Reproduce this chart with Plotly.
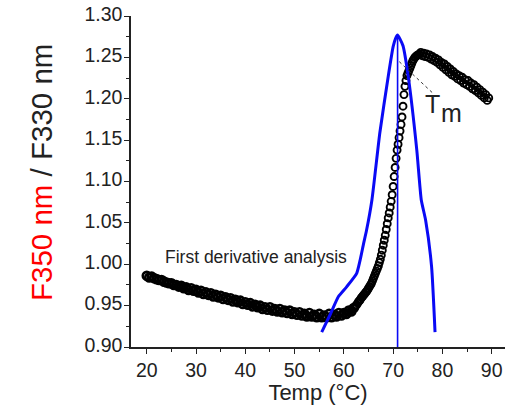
import plotly.graph_objects as go

# ---------------- data ----------------
temp_a = [20.0, 20.5, 21.0, 21.5, 22.0, 22.5, 23.0, 23.5, 24.0, 24.5, 25.0, 25.5, 26.0, 26.5, 27.0, 27.5,
          28.0, 28.5, 29.0, 29.5, 30.0, 30.5, 31.0, 31.5, 32.0, 32.5, 33.0, 33.5, 34.0, 34.5, 35.0, 35.5,
          36.0, 36.5, 37.0, 37.5, 38.0, 38.5, 39.0, 39.5, 40.0, 40.5, 41.0, 41.5, 42.0, 42.5, 43.0, 43.5,
          44.0, 44.5, 45.0, 45.5, 46.0, 46.5, 47.0, 47.5, 48.0, 48.5, 49.0, 49.5, 50.0, 50.5, 51.0, 51.5,
          52.0, 52.5, 53.0, 53.5, 54.0, 54.5, 55.0, 55.5, 56.0, 56.5, 57.0, 57.5, 58.0, 58.5, 59.0, 59.5,
          60.0, 60.5, 61.0, 61.5, 62.0]
ratio_a = [0.986, 0.984, 0.985, 0.983, 0.982, 0.981, 0.981, 0.979, 0.978, 0.977, 0.977, 0.975, 0.975, 0.973, 0.974, 0.971,
           0.972, 0.969, 0.971, 0.968, 0.969, 0.966, 0.968, 0.964, 0.966, 0.963, 0.965, 0.961, 0.963, 0.960, 0.962, 0.958,
           0.960, 0.957, 0.959, 0.955, 0.957, 0.954, 0.956, 0.952, 0.954, 0.951, 0.953, 0.949, 0.951, 0.948, 0.950, 0.946,
           0.948, 0.945, 0.948, 0.944, 0.946, 0.943, 0.946, 0.942, 0.944, 0.941, 0.944, 0.940, 0.942, 0.939, 0.942, 0.938,
           0.940, 0.937, 0.941, 0.937, 0.939, 0.936, 0.940, 0.936, 0.938, 0.936, 0.940, 0.936, 0.939, 0.937, 0.941, 0.938,
           0.941, 0.940, 0.944, 0.943, 0.947]

temp_b = [62.2, 62.4, 62.6, 62.8, 63.0, 63.2, 63.4, 63.6, 63.8, 64.0, 64.2, 64.4, 64.6, 64.8, 65.0, 65.2,
          65.4, 65.6, 65.8, 66.0, 66.2, 66.4, 66.6, 66.8, 67.0, 67.2, 67.4, 67.6, 67.8, 68.0, 68.2, 68.4,
          68.6, 68.8, 69.0, 69.2, 69.4, 69.6, 69.8, 70.0, 70.2, 70.4, 70.6, 70.8, 71.0, 71.2, 71.4, 71.6,
          71.8, 72.0, 72.2, 72.4, 72.6, 72.8, 73.0, 73.2, 73.4, 73.6, 73.8, 74.0, 74.2, 74.4, 74.6, 74.8, 75.0]
ratio_b = [0.948, 0.950, 0.951, 0.953, 0.955, 0.956, 0.958, 0.960, 0.961, 0.963, 0.964, 0.966, 0.967, 0.969, 0.971, 0.973,
           0.975, 0.977, 0.980, 0.983, 0.986, 0.989, 0.992, 0.995, 0.998, 1.002, 1.006, 1.011, 1.017, 1.023, 1.029, 1.035,
           1.042, 1.049, 1.056, 1.062, 1.069, 1.076, 1.084, 1.094, 1.106, 1.117, 1.128, 1.138, 1.145, 1.153, 1.161, 1.169,
           1.178, 1.191, 1.205, 1.215, 1.222, 1.228, 1.231, 1.234, 1.237, 1.240, 1.243, 1.246, 1.248, 1.250, 1.251, 1.252, 1.253]

temp_c = [75.3, 75.6, 75.9, 76.2, 76.5, 76.8, 77.1, 77.4, 77.7, 78.0, 78.3, 78.6, 78.9, 79.2, 79.5, 79.8,
          80.1, 80.4, 80.7, 81.0, 81.3, 81.6, 81.9, 82.2, 82.5, 82.8, 83.1, 83.4, 83.7, 84.0, 84.3, 84.6,
          84.9, 85.2, 85.5, 85.8, 86.1, 86.4, 86.7, 87.0, 87.3, 87.6, 87.9, 88.2, 88.5, 88.8, 89.1, 89.4]
ratio_c = [1.254, 1.256, 1.252, 1.255, 1.251, 1.254, 1.250, 1.253, 1.248, 1.251, 1.246, 1.249, 1.244, 1.247, 1.241, 1.244,
           1.238, 1.242, 1.235, 1.239, 1.232, 1.236, 1.229, 1.233, 1.227, 1.230, 1.224, 1.228, 1.222, 1.226, 1.219, 1.223,
           1.217, 1.222, 1.215, 1.219, 1.212, 1.217, 1.210, 1.214, 1.207, 1.211, 1.204, 1.208, 1.201, 1.205, 1.198, 1.201]

deriv_t = [55.5, 57.2, 58.9, 60.6, 62.6, 63.3, 64.0, 64.6, 65.7, 67.3, 69.0, 70.0, 70.5, 70.9,
           71.4, 72.0, 73.06, 74.8, 75.7, 76.6, 77.8, 78.5]
deriv_v = [0.918, 0.939, 0.961, 0.973, 0.989, 1.005, 1.025, 1.041, 1.078, 1.159, 1.227, 1.263, 1.273, 1.277,
           1.272, 1.264, 1.227, 1.138, 1.078, 1.053, 0.997, 0.918]

tm_value = 70.9
tm_line_y = [0.90, 1.277]
pointer_t = [71.24, 78.14]
pointer_v = [1.2448, 1.2063]

x_ticks = [20, 30, 40, 50, 60, 70, 80, 90]
y_ticks = [0.90, 0.95, 1.00, 1.05, 1.10, 1.15, 1.20, 1.25, 1.30]
y_tick_text = ["0.90", "0.95", "1.00", "1.05", "1.10", "1.15", "1.20", "1.25", "1.30"]

FONT = "Liberation Sans, Arial, sans-serif"
BLUE = "#0a0af5"

fig = go.Figure()
# flat (pre-transition) part: dense, reads as a solid band
fig.add_trace(go.Scatter(x=temp_a, y=ratio_a, mode="markers",
                         marker=dict(symbol="circle-open", size=8, color="black",
                                     line=dict(width=2.6, color="black")),
                         hoverinfo="skip", cliponaxis=False))
fig.add_trace(go.Scatter(x=temp_b + temp_c, y=ratio_b + ratio_c, mode="markers",
                         marker=dict(symbol="circle-open", size=7, color="black",
                                     line=dict(width=1.9, color="black")),
                         hoverinfo="skip", cliponaxis=False))
fig.add_trace(go.Scatter(x=deriv_t, y=deriv_v, mode="lines",
                         line=dict(color=BLUE, width=3, shape="spline", smoothing=0.5),
                         hoverinfo="skip", cliponaxis=False))
fig.add_trace(go.Scatter(x=[tm_value, tm_value], y=tm_line_y, mode="lines",
                         line=dict(color=BLUE, width=1.6), hoverinfo="skip"))
fig.add_trace(go.Scatter(x=pointer_t, y=pointer_v, mode="lines",
                         line=dict(color="#333", width=1, dash="dot"), hoverinfo="skip"))

fig.update_layout(
    width=527, height=405,
    margin=dict(l=131, r=22, t=16, b=58, autoexpand=False),
    paper_bgcolor="white", plot_bgcolor="white",
    showlegend=False,
    font=dict(family=FONT, color="#222"),
)
fig.update_xaxes(range=[16.8, 92.7], showgrid=False, zeroline=False, automargin=False,
                 showline=True, linecolor="#222", linewidth=1.5,
                 ticks="outside", ticklen=5, tickwidth=1.3, tickcolor="#222",
                 ticklabeloverflow="allow",
                 tickvals=x_ticks, tickfont=dict(size=19.5, color="#222"),
                 minor=dict(dtick=5, tick0=0, ticks="outside", ticklen=3, tickwidth=1.2, tickcolor="#222"),
                 title=dict(text="Temp (°C)", font=dict(size=22, color="#222"), standoff=4))
fig.update_yaxes(range=[0.90, 1.30], showgrid=False, zeroline=False, automargin=False,
                 showline=True, linecolor="#222", linewidth=1.5,
                 ticks="outside", ticklen=5, tickwidth=1.3, tickcolor="#222",
                 ticklabelstandoff=-2, ticklabelshift=-2, ticklabeloverflow="allow",
                 tickvals=y_ticks, ticktext=y_tick_text, tickfont=dict(size=19.5, color="#222"),
                 minor=dict(dtick=0.025, tick0=0.9, ticks="outside", ticklen=3, tickwidth=1.2, tickcolor="#222"))

fig.add_annotation(xref="paper", yref="paper", x=(41.5 - 131) / 374, y=(347 - 172.5) / 331,
                   text="<span style='color:#ff0000'>F350 nm</span> / F330 nm",
                   textangle=-90, showarrow=False, xanchor="center", yanchor="middle",
                   font=dict(size=29.5, color="#222", family=FONT))
fig.add_annotation(x=23.3, y=1.0088, text="First derivative analysis", showarrow=False,
                   xanchor="left", yanchor="middle", font=dict(size=17.5, color="#222", family=FONT))
fig.add_annotation(x=77.97, y=1.1937, text="T", showarrow=False,
                   xanchor="center", yanchor="middle", font=dict(size=25, color="#222", family=FONT))
fig.add_annotation(x=81.93, y=1.1828, text="m", showarrow=False,
                   xanchor="center", yanchor="middle", font=dict(size=25, color="#222", family=FONT))

# remove the browser's default 8px body margin so the figure sits at the page origin
fig.write_html("out.html", config={"displayModeBar": False},
               post_script="document.body.style.margin='0';")
